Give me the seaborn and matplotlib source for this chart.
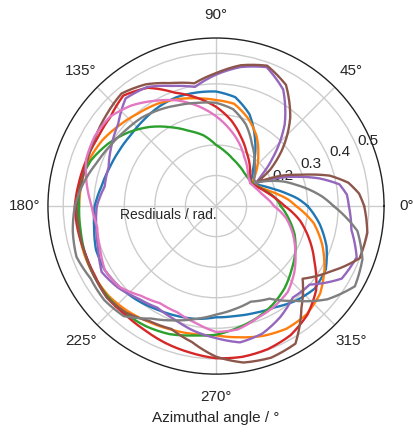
import numpy as np
import pandas as pd
import matplotlib
matplotlib.use("Agg")
import matplotlib.pyplot as plt
import seaborn as sns

# azimuthal sample angles (deg), shared by all runs
theta_deg = [0, 5, 10, 15, 20, 25, 30, 34, 40, 45, 50, 60, 70, 80, 90, 100, 110, 120,
             130, 140, 150, 160, 170, 180, 190, 200, 210, 220, 230, 240, 250, 260,
             270, 280, 290, 300, 310, 320, 330, 340, 350, 360]

# residuals (rad), one list per run
r_blue = [0.300, 0.270, 0.235, 0.205, 0.180, 0.160, 0.145, 0.135, 0.155, 0.172, 0.195,
          0.255, 0.320, 0.362, 0.375, 0.377, 0.379, 0.375, 0.368, 0.363, 0.365, 0.370,
          0.380, 0.397, 0.405, 0.418, 0.420, 0.412, 0.402, 0.390, 0.382, 0.375, 0.364,
          0.365, 0.372, 0.383, 0.405, 0.421, 0.415, 0.385, 0.345, 0.300]
r_orange = [0.262, 0.238, 0.210, 0.185, 0.165, 0.152, 0.145, 0.145, 0.170, 0.193, 0.215,
            0.265, 0.306, 0.340, 0.347, 0.358, 0.372, 0.386, 0.396, 0.412, 0.430, 0.442,
            0.446, 0.448, 0.456, 0.459, 0.460, 0.458, 0.449, 0.438, 0.430, 0.425, 0.423,
            0.436, 0.452, 0.463, 0.462, 0.445, 0.410, 0.370, 0.325, 0.262]
r_green = [0.212, 0.202, 0.190, 0.175, 0.162, 0.150, 0.143, 0.140, 0.139, 0.140, 0.143,
           0.152, 0.163, 0.180, 0.200, 0.235, 0.262, 0.298, 0.338, 0.375, 0.408, 0.436,
           0.452, 0.448, 0.450, 0.456, 0.460, 0.462, 0.460, 0.455, 0.446, 0.430, 0.421,
           0.405, 0.390, 0.372, 0.350, 0.323, 0.300, 0.274, 0.242, 0.212]
r_red = [0.225, 0.205, 0.188, 0.172, 0.160, 0.148, 0.140, 0.135, 0.145, 0.158, 0.172,
         0.201, 0.240, 0.285, 0.325, 0.360, 0.395, 0.447, 0.472, 0.452, 0.447, 0.450,
         0.455, 0.462, 0.459, 0.455, 0.457, 0.466, 0.463, 0.468, 0.478, 0.487, 0.498,
         0.501, 0.498, 0.488, 0.465, 0.428, 0.373, 0.326, 0.280, 0.225]
r_purple = [0.435, 0.430, 0.410, 0.350, 0.280, 0.215, 0.150, 0.180, 0.240, 0.295, 0.350,
            0.440, 0.484, 0.462, 0.430, 0.396, 0.418, 0.450, 0.460, 0.418, 0.395, 0.374,
            0.370, 0.390, 0.398, 0.410, 0.432, 0.417, 0.395, 0.384, 0.395, 0.415, 0.432,
            0.453, 0.444, 0.420, 0.391, 0.400, 0.475, 0.490, 0.450, 0.435]
r_brown = [0.485, 0.470, 0.440, 0.385, 0.300, 0.235, 0.155, 0.215, 0.280, 0.330, 0.378,
           0.458, 0.489, 0.468, 0.435, 0.408, 0.428, 0.460, 0.481, 0.467, 0.455, 0.447,
           0.446, 0.456, 0.455, 0.456, 0.460, 0.466, 0.456, 0.435, 0.428, 0.452, 0.493,
           0.520, 0.528, 0.520, 0.435, 0.370, 0.430, 0.500, 0.503, 0.485]
r_pink = [0.190, 0.178, 0.165, 0.155, 0.148, 0.142, 0.138, 0.135, 0.140, 0.148, 0.160,
          0.185, 0.220, 0.256, 0.294, 0.332, 0.368, 0.398, 0.430, 0.454, 0.458, 0.452,
          0.430, 0.407, 0.395, 0.404, 0.420, 0.412, 0.383, 0.367, 0.370, 0.388, 0.412,
          0.410, 0.391, 0.380, 0.366, 0.335, 0.300, 0.268, 0.234, 0.190]
r_gray = [0.385, 0.350, 0.310, 0.270, 0.235, 0.195, 0.155, 0.150, 0.165, 0.180, 0.197,
          0.235, 0.285, 0.322, 0.338, 0.343, 0.352, 0.365, 0.378, 0.386, 0.398, 0.415,
          0.440, 0.462, 0.476, 0.486, 0.474, 0.478, 0.470, 0.425, 0.398, 0.375, 0.355,
          0.343, 0.333, 0.350, 0.405, 0.475, 0.525, 0.510, 0.470, 0.385]

runs = [r_blue, r_orange, r_green, r_red, r_purple, r_brown, r_pink, r_gray]

r_ticks = [0.1, 0.2, 0.3, 0.4, 0.5]
r_ticklabels = ["", "0.2", "0.3", "0.4", "0.5"]

frames = []
for i, r in enumerate(runs):
    frames.append(pd.DataFrame({"theta": np.deg2rad(theta_deg), "r": r, "run": i}))
df = pd.concat(frames, ignore_index=True)

sns.set_style("whitegrid")
plt.rcParams["font.family"] = ["Liberation Sans", "DejaVu Sans"]

fig = plt.figure(figsize=(4.13, 4.32), dpi=100)
ax = fig.add_axes([0.116, 0.134, 0.814, 0.778], projection="polar")

sns.lineplot(data=df, x="theta", y="r", hue="run", palette="tab10", sort=False,
             estimator=None, legend=False, linewidth=1.7, zorder=3, ax=ax)

# draw segments as polar spirals instead of straight chords
for line in ax.lines:
    line.get_path()._interpolation_steps = 12

ax.set_ylim(0, 0.55)
ax.set_yticks(r_ticks)
ax.set_yticklabels(r_ticklabels, fontsize=11)
ax.set_rlabel_position(22.5)
ax.set_xticks(np.deg2rad(np.arange(0, 360, 45)))
ax.set_xticklabels([f"{d}°" for d in range(0, 360, 45)], fontsize=11)
ax.tick_params(axis="x", pad=6)
ax.grid(True, color="#cccccc", linewidth=1.0)
ax.spines["polar"].set_color("#222222")
ax.spines["polar"].set_linewidth(1.0)

ax.set_xlabel("")
ax.set_ylabel("")
ax.text(0.503, 0.473, "Resdiuals / rad.", transform=ax.transAxes,
        ha="right", va="center", fontsize=10)
fig.text(0.523, 0.032, "Azimuthal angle / °", ha="center", va="center", fontsize=11)

fig.savefig("out.png", dpi=100)
